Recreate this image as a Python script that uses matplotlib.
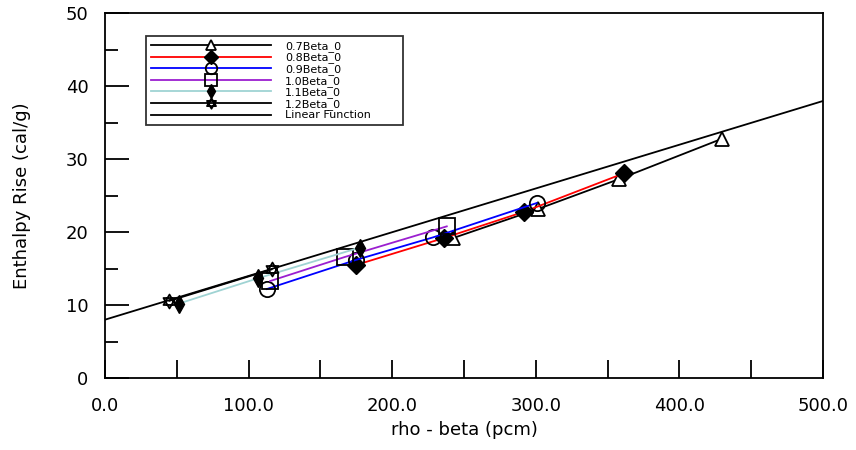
import numpy as np
import matplotlib
matplotlib.use("Agg")
import matplotlib.pyplot as plt
from matplotlib.path import Path
from matplotlib.ticker import MultipleLocator, FormatStrFormatter

plt.rcParams['font.family'] = ['DejaVu Sans']

# data
x07 = [242.5, 301.8, 358.2, 429.4]
y07 = [19.2, 23.2, 27.3, 32.8]
x08 = [174.8, 236.0, 291.8, 361.6]
y08 = [15.5, 19.2, 22.8, 28.1]
x09 = [112.6, 174.8, 228.6, 300.6]
y09 = [12.2, 16.2, 19.3, 24.0]
x10 = [115.0, 167.0, 238.0]
y10 = [13.3, 16.6, 20.8]
x11 = [51.3, 106.8, 177.6]
y11 = [10.2, 13.7, 17.9]
x12 = [44.8, 116.0]
y12 = [10.58, 14.9]
lin_x = [0, 500]
lin_y = [8.0, 38.0]

# hexagram marker (two triangles)
s3 = np.sqrt(3) / 2
up = Path([(0, 1), (-s3, -0.5), (s3, -0.5), (0, 1)],
          [Path.MOVETO, Path.LINETO, Path.LINETO, Path.CLOSEPOLY])
dn = Path([(0, -1), (-s3, 0.5), (s3, 0.5), (0, -1)],
          [Path.MOVETO, Path.LINETO, Path.LINETO, Path.CLOSEPOLY])
star = Path.make_compound_path(up, dn)

fig = plt.figure(figsize=(8.56, 4.5), dpi=100)
ax = fig.add_axes([105 / 856, 72 / 450, 718 / 856, 364.5 / 450])

ax.plot(x07, y07, color='black', lw=1.3, marker='^', ms=10, mfc='white', mec='black', mew=1.3, label='0.7Beta_0', zorder=3)
ax.plot(x08, y08, color='red', lw=1.3, marker='D', ms=9, mfc='black', mec='black', label='0.8Beta_0', zorder=3)
ax.plot(x09, y09, color='blue', lw=1.3, marker='o', ms=11, mfc='none', mec='black', mew=1.3, label='0.9Beta_0', zorder=3)
ax.plot(x10, y10, color='#9b1fd0', lw=1.3, marker='s', ms=11, mfc='none', mec='black', mew=1.3, label='1.0Beta_0', zorder=3)
ax.plot(x11, y11, color='#9fd3d3', lw=1.3, marker='d', ms=9, mfc='black', mec='black', label='1.1Beta_0', zorder=3)
ax.plot(x12, y12, color='black', lw=1.3, marker=star, ms=10, mfc='none', mec='black', mew=1.3, label='1.2Beta_0', zorder=3)
ax.plot(lin_x, lin_y, color='black', lw=1.3, label='Linear Function', zorder=2)

ax.set_xlim(0, 500)
ax.set_ylim(0, 50)
ax.xaxis.set_major_locator(MultipleLocator(100))
ax.xaxis.set_minor_locator(MultipleLocator(50))
ax.xaxis.set_major_formatter(FormatStrFormatter('%.1f'))
ax.yaxis.set_major_locator(MultipleLocator(10))
ax.yaxis.set_minor_locator(MultipleLocator(5))
ax.tick_params(axis='x', which='both', direction='in', length=13, width=1.3, labelsize=13, pad=14)
ax.tick_params(axis='y', which='major', direction='in', length=17, width=1.3, labelsize=13, pad=12)
ax.tick_params(axis='y', which='minor', direction='in', length=9, width=1.3)
for sp in ax.spines.values():
    sp.set_linewidth(1.3)

ax.set_xlabel('rho - beta (pcm)', fontsize=13, labelpad=4)
ax.set_ylabel('Enthalpy Rise (cal/g)', fontsize=13, labelpad=25)

# legend box: left 146px, right 403px, top 36px in the reference
lx0 = 41 / 718
lw_ = 257 / 718
ltop = 1 - 22.5 / 364.5
lh = 91 / 364.5
leg = ax.legend(loc='upper left', bbox_to_anchor=(lx0, ltop - lh, lw_, lh), mode='expand',
                fontsize=8, frameon=True, fancybox=False, edgecolor='black',
                handlelength=10.8, borderaxespad=0, labelspacing=0.06,
                handletextpad=1.25, borderpad=0.45, markerscale=0.75)
leg.get_frame().set_linewidth(1.3)

fig.savefig('out.png', dpi=100)
